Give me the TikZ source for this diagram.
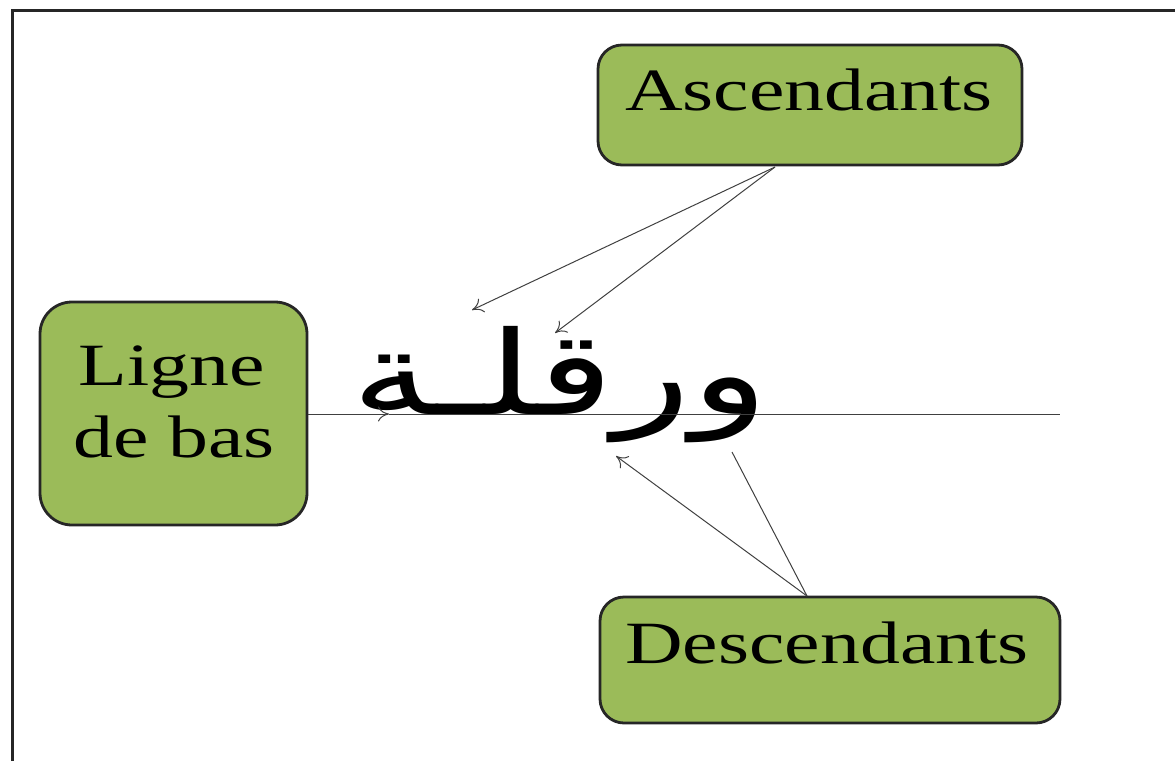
\documentclass[tikz,border=0pt]{standalone}
\usepackage{fontspec}
\setmainfont{Liberation Serif}
\newfontfamily\arabicfont[Script=Arabic]{DejaVu Sans}
\TeXXeTstate=1
\usetikzlibrary{arrows.meta}
\definecolor{boxgreen}{HTML}{9BBB59}
\definecolor{boxedge}{HTML}{262626}
\definecolor{linegray}{HTML}{404040}
\newcommand{\lbl}[1]{\scalebox{1.33}[1]{\fontsize{60}{72}\selectfont #1}}
\tikzset{
  greenbox/.style={draw=boxedge, line width=2.8pt, fill=boxgreen, rounded corners=#1, inner sep=0pt},
  thinarrow/.style={draw=linegray, line width=1pt, -{To[length=11pt,width=15pt]}},
  thinline/.style={draw=linegray, line width=1pt},
  lbltext/.style={inner sep=0pt, anchor=base}
}
\begin{document}
\begin{tikzpicture}[x=1pt,y=-1pt]
\useasboundingbox (0,0) rectangle (1175,761);
% frame
\draw[line width=3pt, draw=boxedge] (12,761) -- (12,10) -- (1175,10);
% boxes
\node[greenbox=24pt, minimum width=424pt, minimum height=120pt] (asc) at (810,105) {};
\node[greenbox=32pt, minimum width=267pt, minimum height=223pt] (lb) at (173.5,413.5) {};
\node[greenbox=24pt, minimum width=460pt, minimum height=126pt] (desc) at (830,660) {};
% labels
\node[lbltext] (asct) at (809,110) {\lbl{Ascendants}};
\node[lbltext] (lbt1) at (172,385) {\lbl{Ligne}};
\node[lbltext] (lbt2) at (174,457) {\lbl{de bas}};
\node[lbltext] (desct) at (827,663) {\lbl{Descendants}};
% arabic word
\node[lbltext] (word) at (560,414) {\scalebox{1.38}[1]{\fontsize{116}{130}\arabicfont\beginR ورقلـة\endR}};
% baseline
\coordinate (bltip) at (389,414);
\coordinate (blend) at (1060,414);
\draw[thinarrow] (lb.east |- bltip) -- (bltip);
\draw[thinline] (bltip) -- (blend);
% ascender arrows
\coordinate (ascfoot) at (775,167);
\coordinate (asc1) at (472,310);
\coordinate (asc2) at (555,333);
\draw[thinarrow] (ascfoot) -- (asc1);
\draw[thinarrow] (ascfoot) -- (asc2);
% descender arrows
\coordinate (descfoot) at (807,596);
\coordinate (desc1) at (616,456);
\coordinate (desc2) at (732,452);
\draw[thinarrow] (descfoot) -- (desc1);
\draw[thinline] (descfoot) -- (desc2);
\end{tikzpicture}
\end{document}
